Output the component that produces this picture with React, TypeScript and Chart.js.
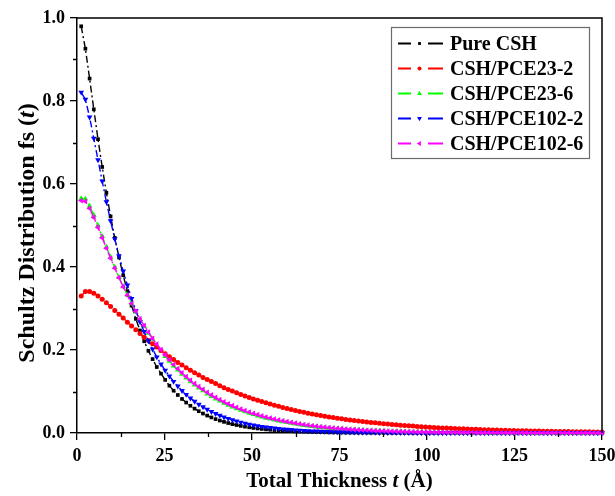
import { useEffect, useRef } from "react";
import { Chart, registerables } from "chart.js";

Chart.register(...registerables);

// Total thickness t (Å)
const thickness = [
  1.2, 2.4, 3.6, 4.8, 6, 7.2, 8.4, 9.6, 10.8, 12,
  13.2, 14.4, 15.6, 16.8, 18, 19.2, 20.4, 21.6, 22.8, 24,
  25.2, 26.4, 27.6, 28.8, 30, 31.2, 32.4, 33.6, 34.8, 36,
  37.2, 38.4, 39.6, 40.8, 42, 43.2, 44.4, 45.6, 46.8, 48,
  49.2, 50.4, 51.6, 52.8, 54, 55.2, 56.4, 57.6, 58.8, 60,
  61.2, 62.4, 63.6, 64.8, 66, 67.2, 68.4, 69.6, 70.8, 72,
  73.2, 74.4, 75.6, 76.8, 78, 79.2, 80.4, 81.6, 82.8, 84,
  85.2, 86.4, 87.6, 88.8, 90, 91.2, 92.4, 93.6, 94.8, 96,
  97.2, 98.4, 99.6, 100.8, 102, 103.2, 104.4, 105.6, 106.8, 108,
  109.2, 110.4, 111.6, 112.8, 114, 115.2, 116.4, 117.6, 118.8, 120,
  121.2, 122.4, 123.6, 124.8, 126, 127.2, 128.4, 129.6, 130.8, 132,
  133.2, 134.4, 135.6, 136.8, 138, 139.2, 140.4, 141.6, 142.8, 144,
  145.2, 146.4, 147.6, 148.8, 150,
];

const pureCSH = [
  0.980, 0.926, 0.854, 0.780, 0.708, 0.641, 0.579, 0.522, 0.470, 0.423,
  0.380, 0.342, 0.307, 0.275, 0.247, 0.221, 0.198, 0.178, 0.159, 0.143,
  0.128, 0.114, 0.102, 0.0916, 0.0820, 0.0733, 0.0656, 0.0587, 0.0525, 0.0469,
  0.0420, 0.0375, 0.0335, 0.0300, 0.0268, 0.0240, 0.0214, 0.0192, 0.0171, 0.0153,
  0.0137, 0.0122, 0.0109, 0.0098, 0.0087, 0.0078, 0.0070, 0.0062, 0.0056, 0.0050,
  0.0044, 0.0040, 0.0035, 0.0032, 0.0028, 0.0025, 0.0023, 0.0020, 0.0018, 0.0016,
  0.0014, 0.0013, 0.0011, 0.0010, 0.0009, 0.0008, 0.0007, 0.0007, 0.0006, 0.0005,
  0.0005, 0.0004, 0.0004, 0.0003, 0.0003, 0.0003, 0.0002, 0.0002, 0.0002, 0.0002,
  0.0001, 0.0001, 0.0001, 0.0001, 0.0001, 0.0001, 0.0001, 0.0001, 0.0001, 0.0001,
  0, 0, 0, 0, 0, 0, 0, 0, 0, 0,
  0, 0, 0, 0, 0, 0, 0, 0, 0, 0,
  0, 0, 0, 0, 0, 0, 0, 0, 0, 0,
  0, 0, 0, 0, 0,
];

const pce23_2 = [
  0.330, 0.341, 0.341, 0.337, 0.330, 0.322, 0.314, 0.305, 0.295, 0.286,
  0.277, 0.267, 0.258, 0.249, 0.240, 0.231, 0.223, 0.215, 0.207, 0.199,
  0.191, 0.184, 0.177, 0.170, 0.164, 0.157, 0.151, 0.145, 0.140, 0.134,
  0.129, 0.124, 0.119, 0.114, 0.109, 0.105, 0.101, 0.0968, 0.0930, 0.0892,
  0.0856, 0.0822, 0.0789, 0.0757, 0.0727, 0.0697, 0.0669, 0.0642, 0.0616, 0.0591,
  0.0565, 0.0542, 0.0520, 0.0499, 0.0478, 0.0459, 0.0440, 0.0422, 0.0405, 0.0388,
  0.0372, 0.0357, 0.0342, 0.0328, 0.0314, 0.0301, 0.0289, 0.0277, 0.0265, 0.0254,
  0.0244, 0.0234, 0.0224, 0.0214, 0.0206, 0.0197, 0.0189, 0.0181, 0.0173, 0.0166,
  0.0159, 0.0153, 0.0146, 0.0140, 0.0134, 0.0129, 0.0123, 0.0118, 0.0113, 0.0109,
  0.0104, 0.0100, 0.0095, 0.0091, 0.0088, 0.0084, 0.0080, 0.0077, 0.0074, 0.0071,
  0.0068, 0.0065, 0.0062, 0.0060, 0.0057, 0.0055, 0.0052, 0.0050, 0.0048, 0.0046,
  0.0044, 0.0042, 0.0040, 0.0039, 0.0037, 0.0036, 0.0034, 0.0033, 0.0031, 0.0030,
  0.0029, 0.0028, 0.0026, 0.0025, 0.0024,
];

const pce23_6 = [
  0.565, 0.564, 0.547, 0.525, 0.500, 0.474, 0.448, 0.424, 0.399, 0.375,
  0.353, 0.332, 0.312, 0.292, 0.274, 0.257, 0.241, 0.226, 0.211, 0.198,
  0.185, 0.173, 0.162, 0.152, 0.142, 0.133, 0.124, 0.116, 0.109, 0.102,
  0.0946, 0.0884, 0.0825, 0.0772, 0.0720, 0.0674, 0.0629, 0.0588, 0.0549, 0.0513,
  0.0479, 0.0447, 0.0416, 0.0388, 0.0362, 0.0338, 0.0314, 0.0293, 0.0273, 0.0255,
  0.0236, 0.0219, 0.0202, 0.0187, 0.0173, 0.0161, 0.0148, 0.0137, 0.0127, 0.0118,
  0.0109, 0.0101, 0.0093, 0.0087, 0.0080, 0.0075, 0.0069, 0.0064, 0.0059, 0.0055,
  0.0051, 0.0047, 0.0044, 0.0040, 0.0037, 0.0034, 0.0032, 0.0030, 0.0027, 0.0025,
  0.0024, 0.0022, 0.0020, 0.0019, 0.0017, 0.0016, 0.0015, 0.0014, 0.0013, 0.0012,
  0.0011, 0.0010, 0.0009, 0.0009, 0.0008, 0.0007, 0.0007, 0.0006, 0.0006, 0.0005,
  0.0005, 0.0004, 0.0004, 0.0004, 0.0004, 0.0003, 0.0003, 0.0003, 0.0003, 0.0003,
  0.0002, 0.0002, 0.0002, 0.0002, 0.0002, 0.0002, 0.0002, 0.0001, 0.0001, 0.0001,
  0.0001, 0.0001, 0.0001, 0.0001, 0.0001,
];

const pce102_2 = [
  0.821, 0.804, 0.761, 0.710, 0.658, 0.607, 0.557, 0.511, 0.468, 0.427,
  0.390, 0.356, 0.324, 0.295, 0.268, 0.244, 0.222, 0.202, 0.183, 0.166,
  0.151, 0.137, 0.124, 0.113, 0.102, 0.0927, 0.0841, 0.0762, 0.0690, 0.0626,
  0.0567, 0.0514, 0.0465, 0.0422, 0.0382, 0.0346, 0.0313, 0.0283, 0.0257, 0.0232,
  0.0210, 0.0190, 0.0172, 0.0156, 0.0141, 0.0128, 0.0116, 0.0105, 0.0095, 0.0086,
  0.0078, 0.0070, 0.0064, 0.0058, 0.0052, 0.0047, 0.0043, 0.0039, 0.0035, 0.0032,
  0.0029, 0.0026, 0.0024, 0.0021, 0.0019, 0.0017, 0.0016, 0.0014, 0.0013, 0.0012,
  0.0011, 0.0010, 0.0009, 0.0008, 0.0007, 0.0007, 0.0006, 0.0005, 0.0005, 0.0004,
  0.0004, 0.0004, 0.0003, 0.0003, 0.0003, 0.0003, 0.0002, 0.0002, 0.0002, 0.0002,
  0.0002, 0.0002, 0.0001, 0.0001, 0.0001, 0.0001, 0.0001, 0.0001, 0.0001, 0.0001,
  0.0001, 0.0001, 0.0001, 0.0001, 0.0001, 0.0001, 0.0001, 0.0001, 0.0001, 0.0001,
  0, 0, 0, 0, 0, 0, 0, 0, 0, 0,
  0, 0, 0, 0, 0,
];

const pce102_6 = [
  0.560, 0.558, 0.541, 0.519, 0.495, 0.470, 0.445, 0.421, 0.397, 0.374,
  0.352, 0.332, 0.312, 0.293, 0.275, 0.259, 0.243, 0.228, 0.214, 0.201,
  0.188, 0.176, 0.165, 0.155, 0.145, 0.136, 0.127, 0.119, 0.112, 0.105,
  0.0979, 0.0917, 0.0858, 0.0804, 0.0752, 0.0704, 0.0659, 0.0617, 0.0577, 0.0540,
  0.0505, 0.0472, 0.0441, 0.0412, 0.0385, 0.0360, 0.0336, 0.0314, 0.0293, 0.0274,
  0.0254, 0.0236, 0.0219, 0.0203, 0.0188, 0.0175, 0.0162, 0.0150, 0.0139, 0.0129,
  0.0120, 0.0111, 0.0103, 0.0096, 0.0089, 0.0083, 0.0077, 0.0071, 0.0066, 0.0061,
  0.0057, 0.0053, 0.0049, 0.0045, 0.0042, 0.0039, 0.0036, 0.0034, 0.0031, 0.0029,
  0.0027, 0.0025, 0.0023, 0.0022, 0.0020, 0.0019, 0.0017, 0.0016, 0.0015, 0.0014,
  0.0013, 0.0012, 0.0011, 0.0010, 0.0009, 0.0009, 0.0008, 0.0007, 0.0007, 0.0006,
  0.0006, 0.0005, 0.0005, 0.0005, 0.0004, 0.0004, 0.0004, 0.0003, 0.0003, 0.0003,
  0.0003, 0.0003, 0.0002, 0.0002, 0.0002, 0.0002, 0.0002, 0.0002, 0.0002, 0.0001,
  0.0001, 0.0001, 0.0001, 0.0001, 0.0001,
];

const seriesLabels = ["Pure CSH", "CSH/PCE23-2", "CSH/PCE23-6", "CSH/PCE102-2", "CSH/PCE102-6"];
const seriesColors = ["#000000", "#ff0000", "#00ff00", "#0000ff", "#ff00ff"];
const xMinorTicks = [12.5, 37.5, 62.5, 87.5, 112.5, 137.5];
const yMinorTicks = [0.1, 0.3, 0.5, 0.7, 0.9];
const xTitleParts = [
  { text: "Total Thickness ", italic: false },
  { text: "t", italic: true },
  { text: " (\u00C5)", italic: false },
];
const yTitleParts = [
  { text: "Schultz Distribution fs (", italic: false },
  { text: "t", italic: true },
  { text: ")", italic: false },
];

const FONT = "'Liberation Serif', 'Times New Roman', serif";

type Marker = { style: string; rotation: number; radius: number };
const markers: Marker[] = [
  { style: "rect", rotation: 0, radius: 2.6 },
  { style: "circle", rotation: 0, radius: 2.5 },
  { style: "triangle", rotation: 0, radius: 3.3 },
  { style: "triangle", rotation: 180, radius: 3.3 },
  { style: "triangle", rotation: 270, radius: 3.3 },
];

function drawMarker(ctx: CanvasRenderingContext2D, m: Marker, x: number, y: number, r: number) {
  ctx.save();
  ctx.translate(x, y);
  ctx.rotate((m.rotation * Math.PI) / 180);
  ctx.beginPath();
  if (m.style === "rect") {
    const s = r * Math.SQRT1_2;
    ctx.rect(-s, -s, 2 * s, 2 * s);
  } else if (m.style === "circle") {
    ctx.arc(0, 0, r, 0, Math.PI * 2);
  } else {
    ctx.moveTo(0, -r);
    ctx.lineTo(r * 0.866, r * 0.5);
    ctx.lineTo(-r * 0.866, r * 0.5);
    ctx.closePath();
  }
  ctx.fill();
  ctx.restore();
}

function drawRich(
  ctx: CanvasRenderingContext2D,
  parts: { text: string; italic: boolean }[],
  size: number,
  cx: number,
  cy: number
) {
  const fonts = parts.map((p) => `${p.italic ? "italic " : ""}bold ${size}px ${FONT}`);
  let total = 0;
  const widths = parts.map((p, i) => {
    ctx.font = fonts[i];
    const w = ctx.measureText(p.text).width;
    total += w;
    return w;
  });
  let x = cx - total / 2;
  ctx.textBaseline = "middle";
  ctx.textAlign = "left";
  ctx.fillStyle = "#000";
  parts.forEach((p, i) => {
    ctx.font = fonts[i];
    ctx.fillText(p.text, x, cy);
    x += widths[i];
  });
}

const decorPlugin = {
  id: "decor",
  afterDraw(chart: any) {
    const { ctx, chartArea: a, scales } = chart;
    const xs = scales.x;
    const ys = scales.y;
    ctx.save();
    // frame top/right
    ctx.strokeStyle = "#000";
    ctx.lineWidth = 1.5;
    ctx.beginPath();
    ctx.moveTo(a.left, a.top);
    ctx.lineTo(a.right, a.top);
    ctx.lineTo(a.right, a.bottom);
    ctx.stroke();
    // minor ticks
    ctx.lineWidth = 1.3;
    ctx.beginPath();
    for (const v of xMinorTicks) {
      const px = Math.round(xs.getPixelForValue(v)) + 0.5;
      ctx.moveTo(px, a.bottom);
      ctx.lineTo(px, a.bottom + 4);
    }
    for (const v of yMinorTicks) {
      const py = Math.round(ys.getPixelForValue(v)) + 0.5;
      ctx.moveTo(a.left, py);
      ctx.lineTo(a.left - 4, py);
    }
    ctx.stroke();

    // axis titles
    drawRich(ctx, xTitleParts, 21, (a.left + a.right) / 2, 482);
    ctx.save();
    ctx.translate(28, 233);
    ctx.rotate(-Math.PI / 2);
    drawRich(ctx, yTitleParts, 24, 0, 0);
    ctx.restore();

    // legend
    const bx = 391, by = 27, bw = 198, bh = 131;
    ctx.fillStyle = "#fff";
    ctx.fillRect(bx, by, bw, bh);
    ctx.strokeStyle = "#6b6b6b";
    ctx.lineWidth = 1.2;
    ctx.strokeRect(bx + 0.5, by + 0.5, bw, bh);
    seriesLabels.forEach((label, i) => {
      const y = 43.5 + i * 25;
      const col = seriesColors[i];
      ctx.strokeStyle = col;
      ctx.fillStyle = col;
      ctx.lineWidth = 1.8;
      ctx.beginPath();
      ctx.moveTo(398, y);
      ctx.lineTo(411, y);
      ctx.moveTo(428, y);
      ctx.lineTo(443, y);
      ctx.stroke();
      drawMarker(ctx, markers[i], 419.5, y, markers[i].style === "triangle" ? 2.8 : 2.0);
      ctx.fillStyle = "#000";
      ctx.font = `bold 20px ${FONT}`;
      ctx.textAlign = "left";
      ctx.textBaseline = "middle";
      ctx.fillText(label, 450, y + 1);
    });
    ctx.restore();
  },
};

export default function App() {
  const ref = useRef<HTMLCanvasElement>(null);

  useEffect(() => {
    if (!ref.current) return;
    const series = [pureCSH, pce23_2, pce23_6, pce102_2, pce102_6];
    const orders = [5, 3, 4, 2, 1];
    const datasets = series.map((vals, i) => ({
      label: seriesLabels[i],
      data: thickness.map((t, j) => ({ x: t, y: vals[j] })),
      borderColor: seriesColors[i],
      backgroundColor: seriesColors[i],
      borderWidth: 1.4,
      borderDash: [7, 3, 2, 3],
      pointStyle: markers[i].style as any,
      rotation: markers[i].rotation,
      pointRadius: markers[i].radius,
      pointBorderWidth: 0,
      pointBackgroundColor: seriesColors[i],
      pointBorderColor: seriesColors[i],
      tension: 0,
      clip: false as any,
      order: orders[i],
    }));

    const tickFont = { family: FONT, weight: "bold" as const, size: 18 };

    const chart = new Chart(ref.current, {
      type: "line",
      data: { datasets },
      options: {
        animation: false,
        responsive: false,
        devicePixelRatio: 1,
        layout: { padding: { top: 18, right: 13, left: 0, bottom: 0 } },
        plugins: { legend: { display: false }, tooltip: { enabled: false } },
        scales: {
          x: {
            type: "linear",
            min: 0,
            max: 150,
            afterFit: (s: any) => {
              s.height = 63;
              s.paddingRight = 0;
              s.paddingLeft = 0;
            },
            ticks: {
              stepSize: 25,
              autoSkip: false,
              maxRotation: 0,
              padding: 6,
              color: "#000",
              font: tickFont,
              callback: (v: any) => String(v),
            },
            grid: {
              display: true,
              drawOnChartArea: false,
              drawTicks: true,
              tickLength: 7,
              color: "#000",
              lineWidth: 1.3,
            },
            border: { display: true, color: "#000", width: 1.5 },
          },
          y: {
            type: "linear",
            min: 0,
            max: 1,
            afterFit: (s: any) => {
              s.width = 77;
              s.paddingTop = 0;
              s.paddingBottom = 0;
            },
            ticks: {
              stepSize: 0.2,
              padding: 5,
              color: "#000",
              font: tickFont,
              callback: (v: any) => Number(v).toFixed(1),
            },
            grid: {
              display: true,
              drawOnChartArea: false,
              drawTicks: true,
              tickLength: 7,
              color: "#000",
              lineWidth: 1.3,
            },
            border: { display: true, color: "#000", width: 1.5 },
          },
        },
      },
      plugins: [decorPlugin],
    });
    return () => chart.destroy();
  }, []);

  return (
    <div style={{ position: "absolute", left: 0, top: 0, width: 615, height: 496, background: "#fff" }}>
      <canvas ref={ref} width={615} height={496} style={{ width: 615, height: 496, display: "block" }} />
    </div>
  );
}
